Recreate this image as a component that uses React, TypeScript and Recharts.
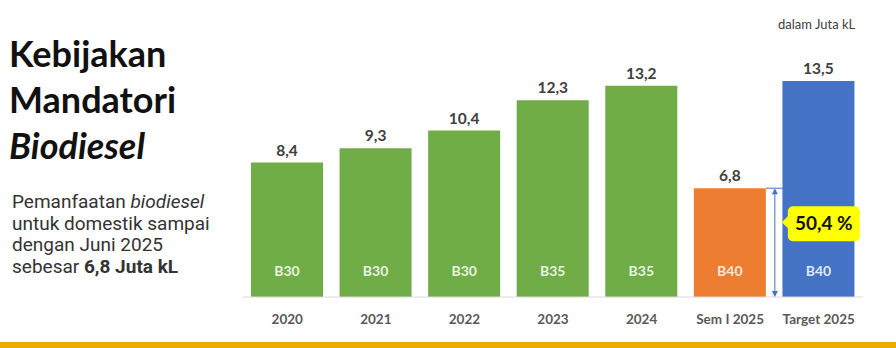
import { BarChart, Bar, XAxis, YAxis, Cell, LabelList } from "recharts";

const categories = ["2020", "2021", "2022", "2023", "2024", "Sem I 2025", "Target 2025"];
const volumes = [8.4, 9.3, 10.4, 12.3, 13.2, 6.8, 13.5];
const blendLabels = ["B30", "B30", "B30", "B35", "B35", "B40", "B40"];
const barColors = ["#70ad47", "#70ad47", "#70ad47", "#70ad47", "#70ad47", "#ed7d31", "#4472c4"];
const achievementIndex = 5;
const achievementText = "50,4 %";
const unitText = "dalam Juta kL";

const data = categories.map((name, i) => ({
  name,
  value: volumes[i],
  blend: blendLabels[i],
}));

const chartFont = "Lato, 'Open Sans', sans-serif";

function fmt(v: number) {
  return v.toFixed(1).replace(".", ",");
}

function BlendLabel(props: any) {
  const { x, y, width, height, index } = props;
  return (
    <text
      x={x + width / 2}
      y={y + height - 21}
      textAnchor="middle"
      fill="#ffffff"
      fillOpacity={0.85}
      fontSize={14}
      fontWeight={700}
      fontFamily={chartFont}
    >
      {blendLabels[index]}
    </text>
  );
}

function Annotation(props: any) {
  const { x, y, width, height, index } = props;
  if (index !== achievementIndex) return null;
  const right = x + width;
  const ax = right + 9;
  const bottom = y + height;
  const stroke = "#4472c4";
  const bx = ax + 13;
  const by = y + 18;
  return (
    <g>
      <line x1={right} y1={y} x2={right + 17} y2={y} stroke={stroke} strokeWidth={1} />
      <line x1={ax} y1={y + 3} x2={ax} y2={bottom - 3} stroke={stroke} strokeWidth={1} />
      <polygon points={`${ax},${y} ${ax - 3},${y + 6} ${ax + 3},${y + 6}`} fill={stroke} />
      <polygon points={`${ax},${bottom} ${ax - 3},${bottom - 6} ${ax + 3},${bottom - 6}`} fill={stroke} />
      <rect x={bx} y={by} width={72} height={35} rx={5} fill="#ffff00" />
      <polygon points={`${ax + 7},${y + 34} ${bx + 1},${y + 27} ${bx + 1},${y + 41}`} fill="#ffff00" />
      <text
        x={bx + 36}
        y={by + 24}
        textAnchor="middle"
        fill="#111111"
        fontSize={19}
        fontWeight={700}
        fontFamily={chartFont}
      >
        {achievementText}
      </text>
    </g>
  );
}

export default function App() {
  return (
    <div
      style={{
        position: "absolute",
        left: 0,
        top: 0,
        width: 896,
        height: 348,
        background: "#ffffff",
        overflow: "hidden",
      }}
    >
      <div
        style={{
          position: "absolute",
          left: 9,
          top: 30,
          fontFamily: chartFont,
          fontWeight: 700,
          fontSize: 36,
          lineHeight: "46px",
          color: "#111111",
        }}
      >
        <div>Kebijakan</div>
        <div>Mandatori</div>
        <div style={{ fontStyle: "italic" }}>Biodiesel</div>
      </div>
      <div
        style={{
          position: "absolute",
          left: 12,
          top: 191,
          fontFamily: "Roboto, sans-serif",
          fontSize: 19,
          lineHeight: "21.7px",
          color: "#333333",
        }}
      >
        <div>
          Pemanfaatan <i>biodiesel</i>
        </div>
        <div>untuk domestik sampai</div>
        <div>dengan Juni 2025</div>
        <div>
          sebesar <b>6,8 Juta kL</b>
        </div>
      </div>
      <div
        style={{
          position: "absolute",
          left: 778,
          top: 16,
          fontFamily: chartFont,
          fontSize: 13,
          color: "#404040",
        }}
      >
        {unitText}
      </div>
      <div style={{ position: "absolute", left: 0, top: 0 }}>
        <BarChart
          width={896}
          height={348}
          data={data}
          margin={{ top: 57, right: 33, bottom: 21, left: 243 }}
        >
          <XAxis
            dataKey="name"
            height={30}
            interval={0}
            tickLine={false}
            tickMargin={11}
            axisLine={{ stroke: "#d9d9d9" }}
            tick={{ fill: "#595959", fontSize: 13.5, fontWeight: 700, fontFamily: chartFont }}
          />
          <YAxis hide domain={[0, 15]} />
          <Bar dataKey="value" barSize={72} isAnimationActive={false}>
            {data.map((d, i) => (
              <Cell key={d.name} fill={barColors[i]} />
            ))}
            <LabelList
              dataKey="value"
              position="top"
              offset={7}
              formatter={(v: any) => fmt(Number(v))}
              fill="#404040"
              fontSize={15.5}
              fontWeight={700}
              fontFamily={chartFont}
            />
            <LabelList dataKey="blend" content={<BlendLabel />} />
            <LabelList dataKey="value" content={<Annotation />} />
          </Bar>
        </BarChart>
      </div>
      <div
        style={{
          position: "absolute",
          left: 0,
          top: 342,
          width: 896,
          height: 6,
          background: "#e6ad00",
        }}
      />
    </div>
  );
}
